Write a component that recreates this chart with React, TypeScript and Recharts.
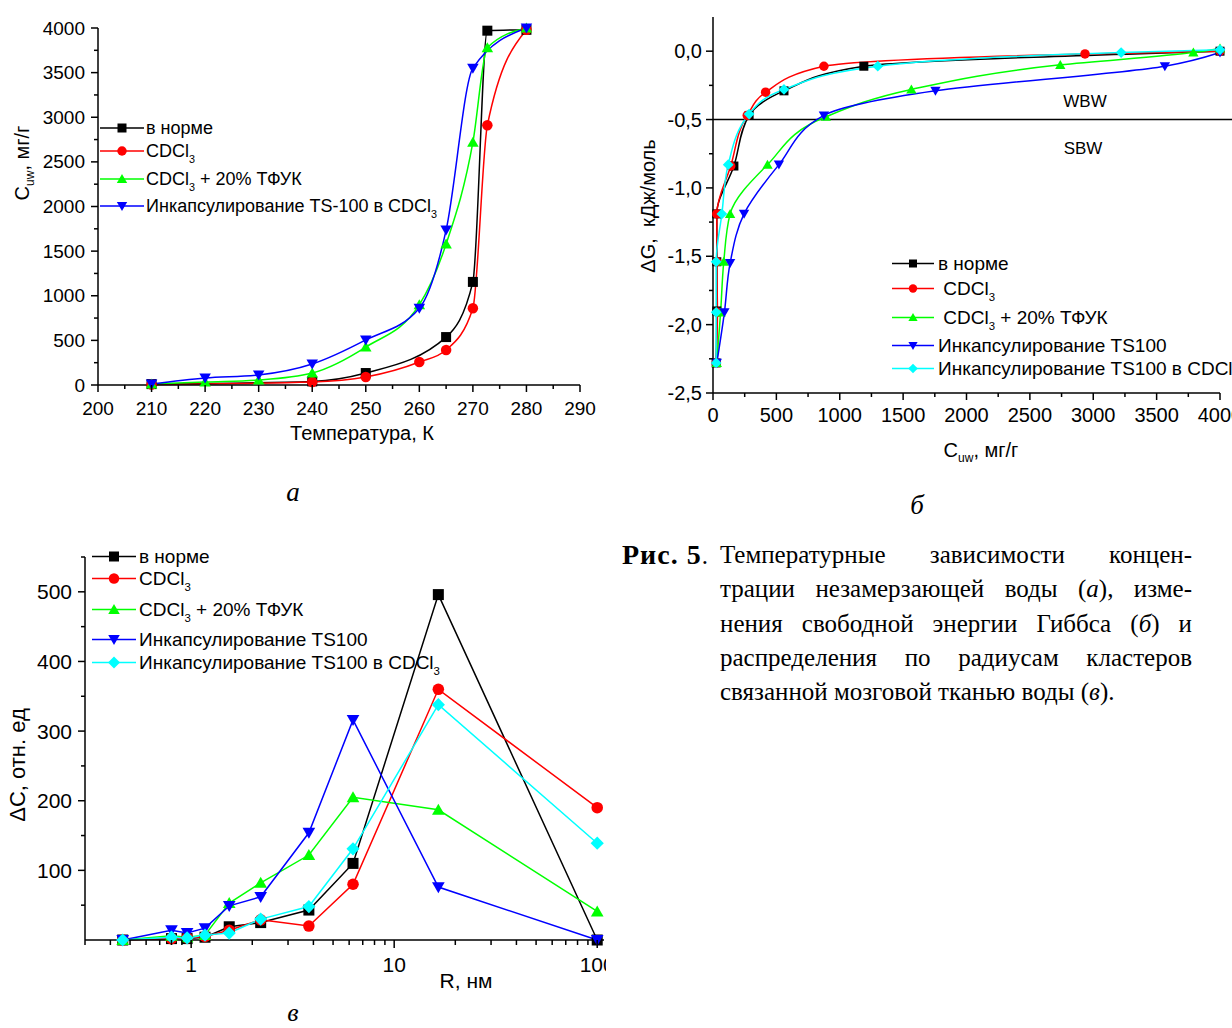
import React from "react";
import { LineChart, Line, XAxis, YAxis, ReferenceLine } from "recharts";

// ---- shared series styling ----
const colors = ["#000000", "#ff0000", "#00ff00", "#0000ff", "#00ffff"];
const shapes = ["square", "circle", "up", "down", "diamond"];

// ---- chart a: C_uw vs temperature ----
const legendA = ["в норме", "CDCl3", "CDCl3 + 20% ТФУК", "Инкапсулирование TS-100 в CDCl3"];
const tempNorm = [210, 240, 250, 265, 270, 272.7, 280];
const cuwNorm = [10, 40, 134, 537, 1155, 3970, 3980];
const tempCdcl = [210, 240, 250, 260, 265, 270, 272.7, 280];
const cuwCdcl = [5, 34, 90, 258, 392, 860, 2910, 3980];
const tempTfuk = [210, 220, 230, 240, 250, 260, 265, 270, 272.7, 280];
const cuwTfuk = [10, 34, 56, 134, 425, 900, 1580, 2720, 3780, 4000];
const tempTs = [210, 220, 230, 240, 250, 260, 265, 270, 280];
const cuwTs = [10, 78, 112, 235, 505, 860, 1736, 3550, 4000];

// ---- chart b: dG vs C_uw ----
const legendB = ["в норме", " CDCl3", " CDCl3 + 20% ТФУК", "Инкапсулирование TS100", "Инкапсулирование TS100 в CDCl3"];
const cNorm = [25, 30, 30, 30, 165, 285, 560, 1190, 4000];
const gNorm = [-2.28, -1.9, -1.54, -1.19, -0.84, -0.47, -0.29, -0.11, 0];
const cCdcl = [25, 35, 30, 30, 140, 270, 415, 875, 2935, 4000];
const gCdcl = [-2.28, -1.91, -1.54, -1.19, -0.84, -0.47, -0.3, -0.11, -0.02, 0];
const cTfuk = [30, 60, 85, 135, 430, 890, 1565, 2740, 3790, 4000];
const gTfuk = [-2.28, -1.91, -1.54, -1.19, -0.83, -0.48, -0.28, -0.1, -0.01, 0.02];
const cTs = [30, 90, 135, 245, 520, 875, 1755, 3565, 4000];
const gTs = [-2.28, -1.91, -1.55, -1.19, -0.83, -0.47, -0.29, -0.11, -0.01];
const cTsCdcl = [25, 25, 25, 70, 120, 285, 560, 1300, 3220, 4000];
const gTsCdcl = [-2.28, -1.91, -1.54, -1.19, -0.83, -0.46, -0.28, -0.11, -0.01, 0.01];

// ---- chart c: dC vs R ----
const legendC = ["в норме", "CDCl3", "CDCl3 + 20% ТФУК", "Инкапсулирование TS100", "Инкапсулирование TS100 в CDCl3"];
const radius = [0.46, 0.8, 0.955, 1.17, 1.54, 2.2, 3.8, 6.27, 16.5, 100];
const dcNorm = [0, 2, 2, 4, 19, 25, 43, 110, 496, 0];
const dcCdcl = [0, 2, 3, 5, 14, 29, 20, 80, 360, 190];
const dcTfuk = [0, 6, 4, 7, 53, 82, 122, 205, 187, 41];
const dcTs = [0, 14, 10, 17, 49, 62, 154, 316, 76, 0];
const dcTsCdcl = [0, 4, 3, 7, 10, 30, 48, 131, 338, 139];

// axis ticks
const ticksAx = Array.from({ length: 19 }, (_, i) => 200 + i * 5);
const ticksAy = Array.from({ length: 17 }, (_, i) => i * 250);
const ticksBx = Array.from({ length: 17 }, (_, i) => i * 250);
const ticksBy = Array.from({ length: 11 }, (_, i) => Math.round((-2.5 + i * 0.25) * 100) / 100);
const ticksCx = [0.3, 0.4, 0.5, 0.6, 0.7, 0.8, 0.9, 1, 2, 3, 4, 5, 6, 7, 8, 9, 10, 20, 30, 40, 50, 60, 70, 80, 90, 100];
const ticksCy = Array.from({ length: 11 }, (_, i) => 50 + i * 50);

const zip = (xs: number[], ys: number[]) => xs.map((x, i) => ({ x, y: ys[i] }));

const seriesA = [zip(tempNorm, cuwNorm), zip(tempCdcl, cuwCdcl), zip(tempTfuk, cuwTfuk), zip(tempTs, cuwTs)];
const seriesB = [zip(cNorm, gNorm), zip(cCdcl, gCdcl), zip(cTfuk, gTfuk), zip(cTs, gTs), zip(cTsCdcl, gTsCdcl)];
const seriesC = [dcNorm, dcCdcl, dcTfuk, dcTs, dcTsCdcl].map((v) => zip(radius, v));

const SANS = "'Liberation Sans', Arial, sans-serif";
const SERIF = "'Liberation Serif', 'Times New Roman', serif";

function Marker({ shape, cx, cy, size, color }: any) {
  const h = size / 2;
  if (shape === "square") return <rect x={cx - h} y={cy - h} width={size} height={size} fill={color} />;
  if (shape === "circle") return <circle cx={cx} cy={cy} r={h * 1.05} fill={color} />;
  if (shape === "up")
    return <polygon points={`${cx - h * 1.15},${cy + h * 0.9} ${cx + h * 1.15},${cy + h * 0.9} ${cx},${cy - h * 1.1}`} fill={color} />;
  if (shape === "down")
    return <polygon points={`${cx - h * 1.15},${cy - h * 0.9} ${cx + h * 1.15},${cy - h * 0.9} ${cx},${cy + h * 1.1}`} fill={color} />;
  return <polygon points={`${cx},${cy - h * 1.2} ${cx + h * 1.2},${cy} ${cx},${cy + h * 1.2} ${cx - h * 1.2},${cy}`} fill={color} />;
}

const dotFn = (shape: string, color: string, size: number) => (props: any) => {
  const { cx, cy, index } = props;
  if (cx == null || cy == null) return <g key={`e${index}`} />;
  return <Marker key={`d${index}`} shape={shape} cx={cx} cy={cy} size={size} color={color} />;
};

const bottomTick =
  (isMajor: (v: number) => boolean, fmt: (v: number) => string, fontSize: number, maj: number, min: number, dy: number) =>
  (props: any) => {
    const { x, y, payload } = props;
    const big = isMajor(payload.value);
    return (
      <g>
        <line x1={x} y1={y} x2={x} y2={y + (big ? maj : min)} stroke="#000" strokeWidth={1.5} />
        {big && (
          <text x={x} y={y + dy} textAnchor="middle" dominantBaseline="central" fontSize={fontSize} fontFamily={SANS} fill="#000">
            {fmt(payload.value)}
          </text>
        )}
      </g>
    );
  };

const leftTick =
  (isMajor: (v: number) => boolean, fmt: (v: number) => string, fontSize: number, maj: number, min: number, dx: number) =>
  (props: any) => {
    const { x, y, payload } = props;
    const big = isMajor(payload.value);
    return (
      <g>
        <line x1={x} y1={y} x2={x - (big ? maj : min)} y2={y} stroke="#000" strokeWidth={1.5} />
        {big && (
          <text x={x - dx} y={y} textAnchor="end" dominantBaseline="central" fontSize={fontSize} fontFamily={SANS} fill="#000">
            {fmt(payload.value)}
          </text>
        )}
      </g>
    );
  };

// "CDCl3" -> CDCl with subscript 3
function label(text: string) {
  const parts = text.split("CDCl3");
  return parts.map((p, i) => (
    <React.Fragment key={i}>
      {p}
      {i < parts.length - 1 && (
        <>
          CDCl<span style={{ fontSize: "0.6em", position: "relative", top: "0.55em" }}>3</span>
        </>
      )}
    </React.Fragment>
  ));
}

function Legend({ names, left, tops, lineW, size, fontSize, gap, markerAt }: any) {
  return (
    <>
      {names.map((n: string, i: number) => (
        <div
          key={n + i}
          style={{ position: "absolute", left, top: tops[i], display: "flex", alignItems: "center", whiteSpace: "pre", fontFamily: SANS, fontSize, lineHeight: 1, transform: "translateY(-50%)" }}
        >
          <svg width={lineW} height={16} style={{ display: "block" }}>
            <line x1={0} y1={8} x2={lineW} y2={8} stroke={colors[i]} strokeWidth={1.5} />
            <Marker shape={shapes[i]} cx={markerAt} cy={8} size={size} color={colors[i]} />
          </svg>
          <span style={{ marginLeft: gap }}>{label(n)}</span>
        </div>
      ))}
    </>
  );
}

const Abs = ({ x, y, rot, size, family, style, children }: any) => (
  <div
    style={{
      position: "absolute",
      left: x,
      top: y,
      transform: `translate(-50%, -50%)${rot ? " rotate(-90deg)" : ""}`,
      whiteSpace: "nowrap",
      fontFamily: family || SANS,
      fontSize: size,
      lineHeight: 1,
      ...style,
    }}
  >
    {children}
  </div>
);

const Cuw = () => (
  <>
    C<span style={{ fontSize: "0.6em", position: "relative", top: "0.45em" }}>uw</span>, мг/г
  </>
);

const axisStyle = { stroke: "#000", strokeWidth: 1.5 };
const commaFmt = (v: number) => v.toFixed(1).replace(".", ",");
const justified = { textAlign: "justify" as const, textAlignLast: "justify" as const };

export default function App() {
  return (
    <div style={{ position: "fixed", left: 0, top: 0, width: 1232, height: 1028, overflow: "hidden", background: "#fff", color: "#000" }}>
      {/* chart a */}
      <div style={{ position: "absolute", left: 0, top: 0 }}>
        <LineChart width={600} height={450} margin={{ top: 28, right: 20, left: 38, bottom: 35 }}>
          <XAxis
            type="number"
            dataKey="x"
            domain={[200, 290]}
            ticks={ticksAx}
            interval={0}
            height={30}
            tickSize={0}
            tickMargin={0}
            tickLine={false}
            axisLine={axisStyle}
            tick={bottomTick((v) => v % 10 === 0, (v) => String(v), 19, 7, 4, 23)}
          />
          <YAxis
            type="number"
            domain={[0, 4000]}
            ticks={ticksAy}
            interval={0}
            width={60}
            tickSize={0}
            tickMargin={0}
            tickLine={false}
            axisLine={axisStyle}
            tick={leftTick((v) => v % 500 === 0, (v) => String(v), 19, 7, 4, 13)}
          />
          {seriesA.map((d, i) => (
            <Line
              key={i}
              data={d}
              dataKey="y"
              type="monotone"
              stroke={colors[i]}
              strokeWidth={1.5}
              dot={dotFn(shapes[i], colors[i], 10)}
              activeDot={false}
              isAnimationActive={false}
            />
          ))}
        </LineChart>
      </div>
      <Legend names={legendA} left={100} tops={[128, 151, 179, 206]} lineW={44} size={9} fontSize={18} gap={2} markerAt={22} />
      <Abs x={22} y={163} rot size={20}>
        <Cuw />
      </Abs>
      <Abs x={362} y={433} size={20}>
        Температура, К
      </Abs>
      <Abs x={293} y={492} size={27} family={SERIF} style={{ fontStyle: "italic" }}>
        а
      </Abs>

      {/* chart b */}
      <div style={{ position: "absolute", left: 620, top: 0 }}>
        <LineChart width={640} height={460} margin={{ top: 17, right: 40, left: 33, bottom: 37 }}>
          <XAxis
            type="number"
            dataKey="x"
            domain={[0, 4000]}
            ticks={ticksBx}
            interval={0}
            height={30}
            tickSize={0}
            tickMargin={0}
            tickLine={false}
            axisLine={axisStyle}
            tick={bottomTick((v) => v % 500 === 0, (v) => String(v), 20, 7, 4, 22)}
          />
          <YAxis
            type="number"
            domain={[-2.5, 0.25]}
            ticks={ticksBy}
            interval={0}
            width={60}
            tickSize={0}
            tickMargin={0}
            tickLine={false}
            axisLine={axisStyle}
            tick={leftTick((v) => Math.round(v * 100) % 50 === 0, commaFmt, 20, 7, 4, 11)}
          />
          <ReferenceLine
            segment={[
              { x: 0, y: -0.5 },
              { x: 4150, y: -0.5 },
            ]}
            stroke="#000"
            strokeWidth={1.5}
            ifOverflow="visible"
          />
          {seriesB.map((d, i) => (
            <Line
              key={i}
              data={d}
              dataKey="y"
              type="monotoneY"
              stroke={colors[i]}
              strokeWidth={1.5}
              dot={dotFn(shapes[i], colors[i], 9)}
              activeDot={false}
              isAnimationActive={false}
            />
          ))}
        </LineChart>
      </div>
      <Abs x={1085} y={101} size={17}>
        WBW
      </Abs>
      <Abs x={1083} y={148} size={17}>
        SBW
      </Abs>
      <Legend names={legendB} left={892} tops={[263, 288, 317, 345, 368]} lineW={42} size={8} fontSize={19} gap={4} markerAt={21} />
      <Abs x={648} y={206} rot size={20}>
        ΔG, &nbsp;кДж/моль
      </Abs>
      <Abs x={981} y={450} size={20}>
        <Cuw />
      </Abs>
      <Abs x={917} y={505} size={27} family={SERIF} style={{ fontStyle: "italic" }}>
        б
      </Abs>

      {/* chart c */}
      <div style={{ position: "absolute", left: 0, top: 530, width: 606, height: 480, overflow: "hidden" }}>
        <LineChart width={640} height={470} margin={{ top: 27, right: 36, left: 25, bottom: 30 }}>
          <XAxis
            type="number"
            dataKey="x"
            scale="log"
            domain={[0.3, 108]}
            ticks={ticksCx}
            interval={0}
            height={30}
            tickSize={0}
            tickMargin={0}
            tickLine={false}
            axisLine={axisStyle}
            tick={bottomTick((v) => v === 1 || v === 10 || v === 100, (v) => String(v), 21, 8, 5, 24)}
          />
          <YAxis
            type="number"
            domain={[0, 550]}
            ticks={ticksCy}
            interval={0}
            width={60}
            tickSize={0}
            tickMargin={0}
            tickLine={false}
            axisLine={axisStyle}
            tick={leftTick((v) => v % 100 === 0, (v) => String(v), 21, 7, 4, 13)}
          />
          {seriesC.map((d, i) => (
            <Line
              key={i}
              data={d}
              dataKey="y"
              type="linear"
              stroke={colors[i]}
              strokeWidth={1.5}
              dot={dotFn(shapes[i], colors[i], 11)}
              activeDot={false}
              isAnimationActive={false}
            />
          ))}
        </LineChart>
      </div>
      <Legend names={legendC} left={92} tops={[556, 578, 609, 639, 662]} lineW={44} size={10} fontSize={19} gap={3} markerAt={22} />
      <Abs x={18} y={765} rot size={22}>
        ΔC, отн. ед
      </Abs>
      <Abs x={466} y={980} size={21}>
        R, нм
      </Abs>
      <Abs x={293} y={1013} size={26} family={SERIF} style={{ fontStyle: "italic" }}>
        в
      </Abs>

      {/* caption */}
      <div style={{ position: "absolute", left: 622, top: 538, fontFamily: SERIF, fontSize: 25, lineHeight: "34.3px", whiteSpace: "nowrap" }}>
        <b style={{ fontSize: 28, letterSpacing: 1 }}>Рис. 5</b>.
      </div>
      <div style={{ position: "absolute", left: 720, top: 538, width: 472, fontFamily: SERIF, fontSize: 25, lineHeight: "34.3px" }}>
        <div style={justified}>Температурные зависимости концен-</div>
        <div style={justified}>
          трации незамерзающей воды (<i>а</i>), изме-
        </div>
        <div style={justified}>
          нения свободной энергии Гиббса (<i>б</i>) и
        </div>
        <div style={justified}>распределения по радиусам кластеров</div>
        <div style={{ whiteSpace: "nowrap" }}>
          связанной мозговой тканью воды (<i>в</i>).
        </div>
      </div>
    </div>
  );
}
